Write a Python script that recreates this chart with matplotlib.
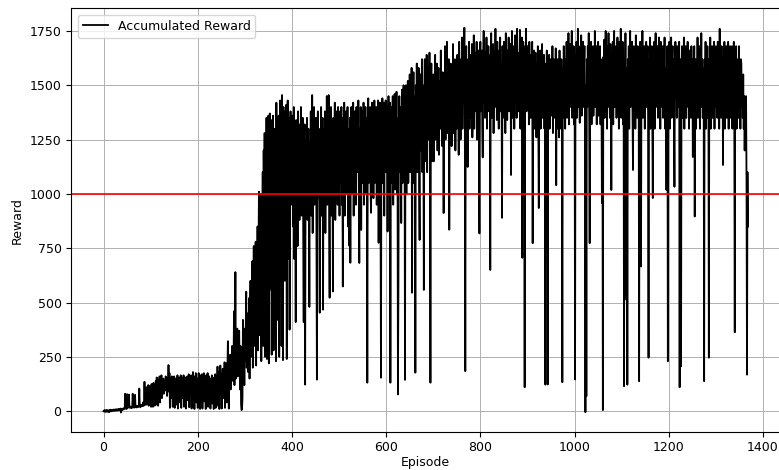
import matplotlib.pyplot as plt

# accumulated reward per episode
# episodes 0-299 (warm up, slow start)
rewards_warmup = [
    0, 3, -2, 5, 1, -4, 2, 6, 0, -3,
    4, 1, -5, 3, 7, 2, -1, 5, 0, 4,
    6, 2, 8, 3, 1, 7, 4, 9, 2, 5,
    8, 3, 10, 6, 4, 9, 12, -6, 7, 11,
    5, 9, 13, 8, 10, 14, 80, 12, 15, 10,
    78, 14, 18, 20, 76, 16, 22, 18, 15, 20,
    14, 24, 80, 18, 22, 16, 20, 75, 18, 21,
    17, 24, 19, 22, 20, 26, 104, 22, 18, 25,
    28, 22, 30, 26, 40, 24, 32, 135, 28, 60,
    35, 110, 30, 85, 40, 120, 25, 70, 115, 30,
    95, 20, 125, 45, 100, 20, 130, 60, 115, 25,
    90, 140, 30, 155, 70, 120, 25, 145, 90, 160,
    40, 130, 110, 165, 60, 140, 100, 150, 80, 120,
    140, 95, 160, 110, 130, 70, 150, 120, 212, 90,
    175, 15, 130, 150, 60, 160, 110, 20, 140, 95,
    160, 15, 120, 150, 30, 140, 90, 165, 12, 130,
    100, 155, 40, 120, 165, 15, 110, 150, 60, 135,
    165, 20, 125, 90, 155, 12, 140, 110, 160, 50,
    130, 170, 18, 120, 150, 80, 165, 12, 135, 95,
    180, 60, 140, 10, 160, 110, 175, 40, 130, 150,
    15, 120, 175, 90, 150, 10, 165, 130, 60, 170,
    12, 140, 110, 175, 45, 150, 120, 10, 165, 95,
    140, 175, 20, 130, 160, 70, 120, 12, 150, 100,
    165, 35, 140, 115, 10, 155, 90, 170, 15, 130,
    160, 60, 205, 25, 140, 180, 10, 150, 210, 80,
    170, 12, 140, 195, 60, 165, 110, 225, 15, 180,
    130, 220, 40, 190, 322, 150, 12, 210, 170, 260,
    100, 230, 190, 300, 140, 250, 200, 460, 120, 280,
    640, 150, 300, 220, 380, 160, 330, 250, 370, 200,
    100, 300, 30, 5, 8, 60, 420, 200, 350, 120,
]

# episodes 300-699 (fast climb)
rewards_climb = [
    380, 230, 400, 550, 200, 340, 450, 180, 380, 520,
    150, 420, 600, 250, 480, 350, 690, 200, 560, 760,
    300, 620, 450, 780, 210, 700, 520, 850, 280, 760,
    1010, 350, 880, 640, 1000, 230, 950, 700, 1100, 300,
    1200, 820, 1280, 250, 1190, 900, 1350, 240, 1180, 780,
    1360, 220, 1120, 1370, 560, 1040, 1340, 260, 1200, 1000,
    1360, 280, 1110, 1300, 700, 1250, 230, 1420, 980, 1300,
    420, 1200, 1360, 250, 1100, 1430, 880, 1320, 300, 1455,
    1050, 235, 1400, 900, 1300, 600, 1380, 1100, 1410, 240,
    1250, 1430, 700, 1200, 1350, 375, 1150, 1380, 950, 1300,
    1000, 1360, 850, 1250, 1400, 700, 1300, 1100, 410, 1340,
    980, 1250, 760, 1380, 1050, 1200, 880, 1320, 1100, 1400,
    900, 1280, 1050, 1350, 800, 410, 1200, 1320, 122, 1100,
    1250, 950, 1350, 880, 1150, 1300, 1000, 480, 1240, 1080,
    1380, 900, 1200, 1455, 820, 1300, 1050, 1400, 950, 1250,
    1100, 1350, 850, 145, 1200, 1380, 980, 1250, 1100, 453,
    1300, 1000, 1400, 900, 1220, 1350, 467, 1150, 1300, 1050,
    1380, 820, 1250, 1100, 1450, 950, 1300, 1200, 1455, 880,
    522, 1250, 1050, 1400, 900, 1300, 1150, 551, 1350, 1000,
    1250, 1420, 880, 1200, 1380, 1050, 1300, 950, 1400, 1100,
    1300, 900, 1380, 1050, 1250, 1400, 950, 1200, 574, 1350,
    1100, 1420, 900, 1300, 1150, 1380, 1000, 1250, 1400, 850,
    1300, 1100, 761, 1350, 683, 1250, 1400, 1000, 1300, 1150,
    1420, 900, 1250, 1380, 1050, 1300, 950, 1400, 1100, 1350,
    1200, 1430, 1000, 682, 1300, 1150, 1400, 834, 1250, 1380,
    1050, 1300, 1420, 950, 1250, 1100, 1400, 1000, 1350, 1200,
    131, 1300, 1440, 1050, 1350, 1150, 1400, 1000, 913, 1300,
    1420, 1100, 1350, 980, 1250, 1430, 1050, 1300, 1150, 1400,
    950, 1350, 1200, 1430, 775, 1300, 1100, 1420, 1000, 154,
    1350, 1200, 1440, 1050, 1300, 1420, 900, 1380, 1150, 1430,
    1100, 1400, 1250, 827, 1350, 1450, 1000, 1300, 1420, 131,
    1250, 1400, 1050, 1350, 1450, 950, 1300, 1180, 1460, 1020,
    1380, 1250, 1470, 1000, 1350, 77, 558, 1300, 1450, 1100,
    1400, 1250, 866, 1380, 1480, 1050, 1300, 1500, 1150, 1400,
    144, 1350, 1500, 1000, 1420, 1250, 1520, 1050, 1400, 1300,
    1550, 1100, 1450, 1300, 1580, 545, 1400, 1200, 1560, 1050,
    1450, 1350, 177, 1500, 1250, 1600, 1100, 1450, 1300, 1580,
    1050, 788, 1400, 1550, 1200, 1450, 1620, 1100, 1500, 1300,
    558, 1450, 1620, 1150, 1500, 1350, 1640, 1100, 1450, 1580,
    1250, 1500, 1650, 1200, 131, 1450, 1600, 1150, 1500, 1350,
]

# episodes 700-1049 (plateau, first half)
rewards_plateau_a = [
    1550, 1150, 1420, 1300, 1640, 1250, 1480, 1380, 1600, 1200,
    1450, 1580, 1180, 1400, 1520, 1300, 1660, 1350, 1480, 1220,
    1560, 1400, 912, 1500, 1320, 1680, 1250, 1450, 1380, 1700,
    1280, 1520, 1400, 1620, 835, 1480, 1300, 1600, 1420, 1220,
    1550, 1350, 1690, 1280, 1500, 1430, 1620, 1200, 1480, 1580,
    1300, 1640, 1420, 1530, 1180, 1700, 1380, 1560, 1250, 1620,
    1480, 1720, 1300, 1580, 1420, 1530, 1765, 1350, 184, 1520,
    1680, 1200, 1550, 1124, 1620, 1450, 1700, 1300, 1520, 1640,
    1350, 1480, 1690, 1260, 1580, 1420, 1730, 1300, 1520, 1650,
    1380, 1500, 1700, 1250, 1600, 1450, 1660, 1320, 818, 1580,
    1700, 1380, 1550, 1660, 1320, 1168, 1600, 1750, 1420, 1540,
    1350, 1650, 1480, 1720, 1300, 1580, 1450, 1680, 1380, 1550,
    1640, 650, 1500, 1740, 1350, 1600, 1460, 1690, 1280, 1560,
    1650, 1400, 1760, 1480, 1600, 1340, 1700, 1450, 1550, 1300,
    1660, 1520, 1720, 1380, 1600, 1460, 890, 1680, 1350, 1560,
    1700, 1420, 1600, 1280, 1740, 1500, 1580, 1340, 1660, 1450,
    1720, 1380, 1620, 1520, 1690, 1087, 1560, 1750, 1350, 1600,
    1460, 1680, 1300, 1580, 1730, 1420, 1620, 1350, 1760, 1480,
    1650, 1380, 1600, 1550, 1755, 1300, 1660, 1450, 1720, 706,
    1560, 1700, 1340, 1620, 110, 1680, 1420, 1760, 1380, 1560,
    1680, 1450, 1600, 1320, 1700, 1480, 1560, 1350, 1640, 1420,
    1700, 773, 1600, 1400, 1660, 1300, 1550, 1650, 1430, 1260,
    1600, 1500, 1680, 1350, 935, 1560, 1420, 1660, 1300, 1600,
    1480, 1690, 1350, 1560, 1420, 1640, 1300, 1520, 122, 1600,
    1380, 1660, 1350, 123, 1560, 1420, 1640, 1300, 1500, 1620,
    1360, 1580, 1440, 1680, 1280, 1520, 1620, 1350, 1560, 1430,
    1670, 1040, 1520, 1300, 1620, 1400, 1580, 1260, 1660, 1440,
    1520, 1300, 1620, 1400, 133, 1580, 1350, 1680, 1430, 1560,
    1300, 1620, 1480, 1700, 1350, 1580, 1440, 1740, 1320, 1620,
    1480, 1690, 1400, 1580, 1750, 1350, 1630, 1450, 1680, 1320,
    1580, 146, 1640, 1450, 1700, 1350, 1580, 1760, 1400, 1620,
    1480, 1327, 1680, 1440, 1730, 1360, 1620, 1520, 1700, 1400,
    1580, 1680, 1450, -5, 1500, 69, 1620, 1400, 1680, 1480,
    1740, 1350, 773, 1620, 1450, 1700, 1320, 1580, 1480, 1680,
    1360, 1620, 1520, 1750, 1400, 1580, 1680, 1320, 1620, 1480,
]

# episodes 1050-1368 (plateau, second half)
rewards_plateau_b = [
    1700, 1360, 1580, 1440, 1680, 1320, 1620, 1520, 958, 1580,
    5, 1630, 1400, 1710, 1350, 1580, 1750, 1440, 1620, 1300,
    1680, 1480, 1740, 1400, 1580, 1350, 1690, 1520, 1018, 1620,
    1440, 1700, 1320, 1580, 1750, 1400, 1620, 1480, 1680, 1350,
    1580, 1720, 1440, 1620, 1300, 1700, 1480, 1580, 1760, 1350,
    1620, 1440, 1700, 1320, 1580, 115, 1630, 1480, 1740, 1350,
    513, 1580, 122, 1620, 1440, 1680, 1300, 1580, 1750, 1400,
    1620, 1520, 1700, 1350, 1110, 1580, 1680, 1440, 1620, 1300,
    1730, 1480, 1580, 1350, 1680, 1440, 1620, 138, 1580, 1700,
    1400, 666, 1620, 1480, 1750, 1350, 1580, 1440, 1680, 1300,
    1620, 1520, 1700, 1400, 1580, 1680, 1350, 246, 1620, 1440,
    1720, 1300, 1580, 1480, 1680, 1350, 981, 1620, 1440, 1700,
    1300, 1580, 1740, 1400, 1620, 1480, 1680, 1350, 1580, 1720,
    1440, 1620, 1300, 1700, 1520, 1580, 1400, 1680, 1350, 1620,
    1480, 1720, 1300, 1580, 1440, 1018, 1620, 1680, 230, 1580,
    1440, 1700, 1300, 1620, 1520, 1720, 1350, 1580, 1680, 1400,
    1620, 1300, 1033, 1580, 1700, 1440, 1620, 1350, 1680, 1480,
    1580, 1400, 1700, 110, 1620, 1440, 207, 1580, 1680, 1350,
    1620, 1480, 1720, 1300, 1580, 1440, 1680, 1350, 1620, 1520,
    1700, 1400, 1580, 1300, 1660, 1440, 1580, 1350, 1680, 1480,
    1620, 1170, 1580, 1400, 1680, 896, 1520, 1620, 1300, 1580,
    1440, 1720, 1350, 1620, 1480, 1680, 1300, 1580, 1440, 1740,
    1400, 1620, 1350, 1580, 1480, 138, 1620, 1440, 1700, 1300,
    1580, 1520, 1680, 1350, 1620, 246, 1580, 1440, 1720, 1300,
    1620, 1480, 1680, 1350, 1580, 1440, 1700, 1300, 1620, 1520,
    1680, 1400, 1580, 1350, 1700, 1480, 1620, 1300, 1760, 1440,
    1580, 1350, 1680, 1480, 1620, 1133, 1580, 1440, 1700, 1300,
    1620, 1480, 1680, 1350, 1580, 1440, 1700, 1300, 1620, 1400,
    1680, 1350, 1580, 1440, 1680, 1300, 1620, 1480, 1700, 1350,
    363, 1580, 1440, 1680, 1300, 1620, 1400, 1580, 1350, 1680,
    1440, 1580, 1300, 1620, 1600, 1400, 1500, 1350, 1550, 1300,
    1450, 1200, 1400, 1300, 1450, 1050, 168, 1100, 850,
]

target_reward = 1000


def main():
    rewards = rewards_warmup + rewards_climb + rewards_plateau_a + rewards_plateau_b
    episodes = list(range(len(rewards)))

    plt.rcParams['font.family'] = 'DejaVu Sans'
    plt.rcParams['font.size'] = 9

    fig = plt.figure(figsize=(7.79, 4.70), dpi=100)
    # the original is cut off on the right, so the axes run up to the edge
    ax = fig.add_axes([0.0915, 0.0815, 0.91, 0.9005])

    ax.plot(episodes, rewards, color='black', linewidth=1.3, label='Accumulated Reward')
    ax.axhline(target_reward, color='red', linewidth=1.2)

    ax.set_xlabel('Episode', labelpad=1)
    ax.set_ylabel('Reward')
    ax.set_xticks([0, 200, 400, 600, 800, 1000, 1200, 1400])
    ax.set_yticks([0, 250, 500, 750, 1000, 1250, 1500, 1750])
    ax.grid(True, color='#b0b0b0', linewidth=0.7)
    ax.legend(loc='upper left')

    fig.savefig('out.png', dpi=100)


if __name__ == "__main__":
    main()
